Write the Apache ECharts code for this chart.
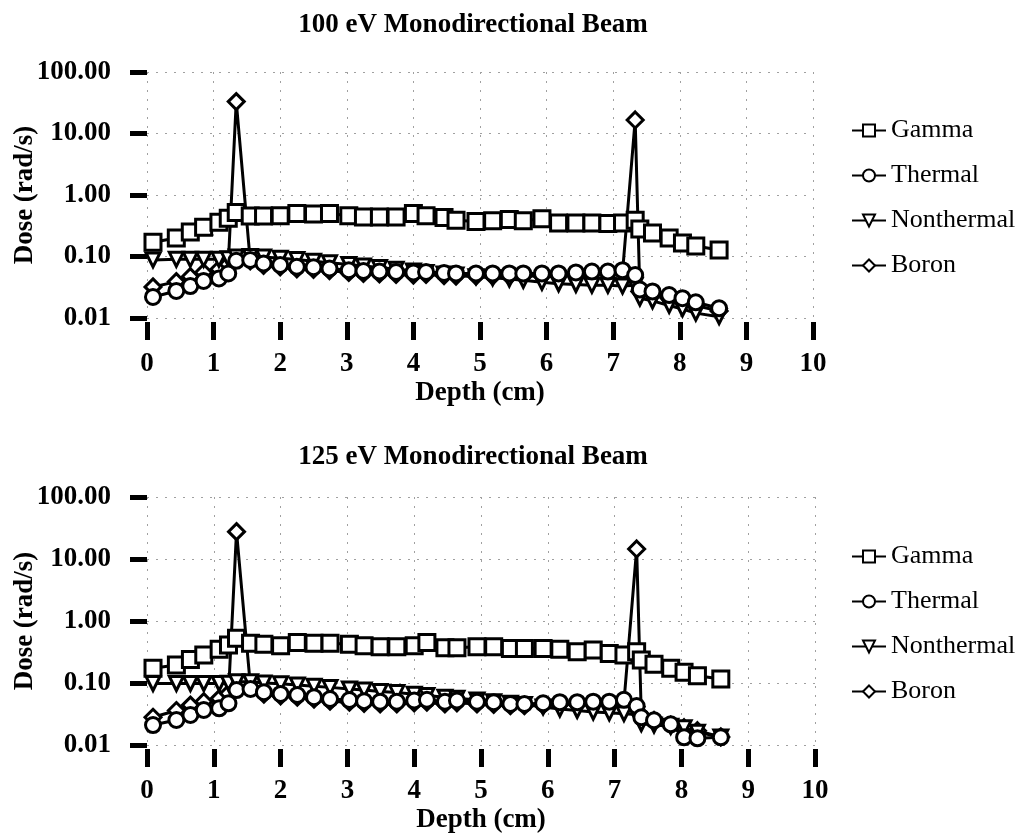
<!DOCTYPE html>
<html>
<head>
<meta charset="utf-8">
<script src="https://cdn.jsdelivr.net/npm/echarts@6/dist/echarts.min.js"></script>
<style>
  html, body { margin: 0; padding: 0; background: #fff; }
  #chart { width: 1018px; height: 838px; }
</style>
</head>
<body>
<div id="chart"></div>
<script>
// Depth of each tally cell (cm), shared by both beams
const depth = [0.09, 0.44, 0.65, 0.85, 1.08, 1.22, 1.34, 1.55, 1.75, 2.00,
               2.25, 2.50, 2.74, 3.03, 3.25, 3.49, 3.74, 4.00, 4.19, 4.46,
               4.64, 4.94, 5.19, 5.44, 5.65, 5.93, 6.18, 6.44, 6.68, 6.92,
               7.14, 7.33, 7.40, 7.59, 7.84, 8.04, 8.24, 8.59];

// 100 eV beam dose rates (rad/s)
const gamma100 = [0.17, 0.20, 0.25, 0.30, 0.36, 0.42, 0.52, 0.455, 0.455, 0.46,
                  0.50, 0.49, 0.50, 0.46, 0.44, 0.44, 0.44, 0.50, 0.46, 0.43,
                  0.39, 0.37, 0.38, 0.40, 0.38, 0.41, 0.35, 0.35, 0.35, 0.345,
                  0.35, 0.39, 0.28, 0.24, 0.20, 0.165, 0.148, 0.128];
const thermal100 = [0.022, 0.0275, 0.033, 0.040, 0.044, 0.053, 0.085, 0.088, 0.077, 0.073,
                    0.068, 0.067, 0.064, 0.060, 0.058, 0.057, 0.056, 0.055, 0.056, 0.054,
                    0.053, 0.053, 0.053, 0.053, 0.053, 0.053, 0.053, 0.055, 0.057, 0.057,
                    0.060, 0.050, 0.029, 0.027, 0.0236, 0.021, 0.018, 0.0144];
const nonthermal100 = [0.088, 0.090, 0.090, 0.090, 0.090, 0.092, 0.098, 0.100, 0.098, 0.094,
                       0.089, 0.084, 0.079, 0.074, 0.070, 0.066, 0.062, 0.058, 0.055, 0.052,
                       0.050, 0.047, 0.045, 0.043, 0.041, 0.038, 0.036, 0.035, 0.034, 0.034,
                       0.033, 0.034, 0.021, 0.019, 0.016, 0.014, 0.012, 0.0105];
const boron100 = [0.032, 0.039, 0.047, 0.055, 0.062, 0.075, 33.0, 0.085, 0.072, 0.068,
                  0.063, 0.062, 0.059, 0.055, 0.053, 0.052, 0.051, 0.050, 0.051, 0.049,
                  0.048, 0.048, 0.048, 0.048, 0.048, 0.048, 0.048, 0.050, 0.052, 0.052,
                  0.055, 16.6, 0.027, 0.024, 0.021, 0.019, 0.016, 0.013];

// 125 eV beam dose rates (rad/s)
const gamma125 = [0.173, 0.195, 0.24, 0.283, 0.35, 0.41, 0.525, 0.436, 0.42, 0.40,
                  0.45, 0.436, 0.436, 0.42, 0.40, 0.385, 0.385, 0.40, 0.45, 0.37,
                  0.37, 0.385, 0.385, 0.36, 0.36, 0.36, 0.35, 0.32, 0.34, 0.30,
                  0.283, 0.32, 0.235, 0.20, 0.173, 0.149, 0.131, 0.116];
const thermal125 = [0.021, 0.0253, 0.0305, 0.0367, 0.039, 0.047, 0.077, 0.080, 0.071, 0.0665,
                    0.064, 0.059, 0.055, 0.053, 0.051, 0.050, 0.050, 0.052, 0.0535, 0.050,
                    0.052, 0.050, 0.049, 0.046, 0.046, 0.047, 0.049, 0.049, 0.050, 0.050,
                    0.0535, 0.0425, 0.028, 0.025, 0.0216, 0.0133, 0.0128, 0.0133];
const nonthermal125 = [0.098, 0.098, 0.098, 0.098, 0.098, 0.099, 0.105, 0.105, 0.100, 0.097,
                       0.093, 0.089, 0.085, 0.080, 0.077, 0.073, 0.070, 0.066, 0.063, 0.059,
                       0.057, 0.053, 0.050, 0.047, 0.045, 0.041, 0.038, 0.036, 0.034, 0.033,
                       0.032, 0.031, 0.022, 0.021, 0.020, 0.019, 0.016, 0.0135];
const boron125 = [0.028, 0.036, 0.044, 0.050, 0.056, 0.068, 27.6, 0.085, 0.066, 0.062,
                  0.059, 0.055, 0.051, 0.049, 0.047, 0.046, 0.046, 0.048, 0.049, 0.046,
                  0.048, 0.046, 0.045, 0.043, 0.043, 0.044, 0.045, 0.045, 0.046, 0.046,
                  0.049, 14.5, 0.030, 0.025, 0.021, 0.019, 0.017, 0.0135];

const seriesNames = ['Gamma', 'Thermal', 'Nonthermal', 'Boron'];
const titles = ['100 eV Monodirectional Beam', '125 eV Monodirectional Beam'];
const xAxisTitle = 'Depth (cm)';
const yAxisTitle = 'Dose (rad/s)';

const FONT = '"Liberation Serif", "Times New Roman", serif';

const pair = (ys) => depth.map((d, i) => [d, ys[i]]);

// marker style per series: symbol, size, rotation, stacking order
const markers = {
  Gamma:      { symbol: 'rect',     size: 16, rotate: 0,   z: 5 },
  Thermal:    { symbol: 'circle',   size: 15, rotate: 0,   z: 4 },
  Nonthermal: { symbol: 'triangle', size: 14, rotate: 180, z: 3 },
  Boron:      { symbol: 'diamond',  size: [16, 16], rotate: 0, z: 2 }
};

function makeSeries(name, values, gridIndex) {
  const m = markers[name];
  return {
    name: name,
    type: 'line',
    xAxisIndex: gridIndex,
    yAxisIndex: gridIndex,
    data: pair(values),
    symbol: m.symbol,
    symbolSize: m.size,
    symbolRotate: m.rotate,
    showAllSymbol: true,
    z: m.z,
    animation: false,
    lineStyle: { color: '#000', width: 3 },
    itemStyle: { color: '#fff', borderColor: '#000', borderWidth: 3 },
    emphasis: { disabled: true }
  };
}

const grids = [
  { left: 147, top: 72, width: 666, height: 246, outerBoundsMode: 'none', containLabel: false },
  { left: 147, top: 497, width: 668, height: 248, outerBoundsMode: 'none', containLabel: false }
];

function xAxisFor(i) {
  return {
    type: 'value', gridIndex: i, min: 0, max: 10, interval: 1,
    offset: 4,
    name: xAxisTitle, nameLocation: 'middle', nameGap: 58,
    nameTextStyle: { fontFamily: FONT, fontSize: 27, fontWeight: 'bold', color: '#000' },
    axisLine: { show: false },
    axisTick: { show: true, length: 18, inside: false, lineStyle: { color: '#000', width: 5 } },
    axisLabel: { fontFamily: FONT, fontSize: 27, fontWeight: 'bold', color: '#000', margin: 29 },
    splitLine: { show: true, lineStyle: { color: '#a0a0a0', width: 1, type: [2, 7] } }
  };
}

function yAxisFor(i) {
  return {
    type: 'log', logBase: 10, gridIndex: i, min: 0.01, max: 100,
    offset: 8,
    name: yAxisTitle, nameLocation: 'middle', nameGap: 100, nameRotate: 90,
    nameMoveOverlap: false,
    nameTextStyle: { fontFamily: FONT, fontSize: 27, fontWeight: 'bold', color: '#000' },
    axisLine: { show: false },
    axisTick: { show: true, length: 17, lineStyle: { color: '#000', width: 5 } },
    axisLabel: {
      fontFamily: FONT, fontSize: 27, fontWeight: 'bold', color: '#000', margin: 28,
      formatter: (v) => Number(v).toFixed(2)
    },
    minorTick: { show: false },
    splitLine: { show: true, lineStyle: { color: '#a0a0a0', width: 1, type: [2, 7] } }
  };
}

function legendFor(top) {
  return {
    orient: 'vertical', left: 846, top: top,
    data: seriesNames,
    itemWidth: 34, itemHeight: 15, itemGap: 16,
    selectedMode: false,
    textStyle: { fontFamily: FONT, fontSize: 26, color: '#000', lineHeight: 29 }
  };
}

const chart = echarts.init(document.getElementById('chart'), null, { renderer: 'canvas' });
chart.setOption({
  backgroundColor: '#fff',
  animation: false,
  title: [
    { text: titles[0], left: 468, top: 7, textAlign: 'center',
      textStyle: { fontFamily: FONT, fontSize: 27, fontWeight: 'bold', color: '#000' } },
    { text: titles[1], left: 468, top: 439, textAlign: 'center',
      textStyle: { fontFamily: FONT, fontSize: 27, fontWeight: 'bold', color: '#000' } }
  ],
  legend: [legendFor(111), legendFor(537)],
  grid: grids,
  xAxis: [xAxisFor(0), xAxisFor(1)],
  yAxis: [yAxisFor(0), yAxisFor(1)],
  series: [
    makeSeries('Gamma', gamma100, 0),
    makeSeries('Thermal', thermal100, 0),
    makeSeries('Nonthermal', nonthermal100, 0),
    makeSeries('Boron', boron100, 0),
    makeSeries('Gamma', gamma125, 1),
    makeSeries('Thermal', thermal125, 1),
    makeSeries('Nonthermal', nonthermal125, 1),
    makeSeries('Boron', boron125, 1)
  ]
});
</script>
</body>
</html>
